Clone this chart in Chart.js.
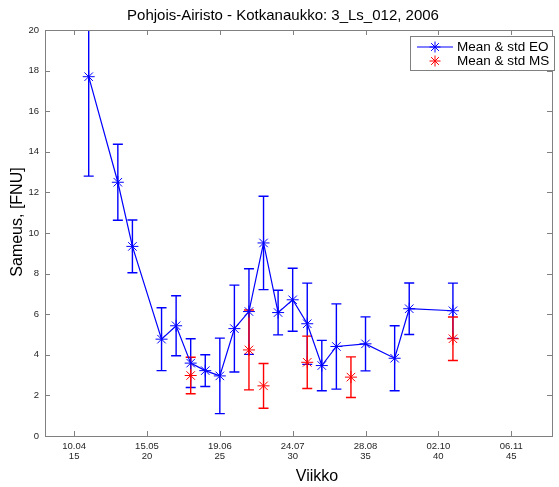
<!DOCTYPE html>
<html><head><meta charset="utf-8">
<script src="https://cdn.jsdelivr.net/npm/chart.js@4/dist/chart.umd.min.js"></script>
<style>html,body{margin:0;padding:0;background:#fff;overflow:hidden}</style>
</head><body>
<canvas id="c" width="559" height="487" style="display:block"></canvas>
<script>
// ---- data ----
const weeksEO = [16, 18, 19, 21, 22, 23, 24, 25, 26, 27, 28, 29, 30, 31, 32, 33, 35, 37, 38, 41];
const meanEO  = [17.7, 12.5, 9.34, 4.77, 5.43, 3.59, 3.22, 2.96, 5.29, 6.13, 9.51, 6.08, 6.71, 5.53, 3.47, 4.41, 4.54, 3.83, 6.27, 6.17];
const stdEO   = [4.9, 1.87, 1.3, 1.55, 1.48, 1.2, 0.78, 1.86, 2.14, 2.11, 2.3, 1.1, 1.55, 2.0, 1.24, 2.1, 1.33, 1.6, 1.27, 1.36];
const weeksMS = [23, 27, 28, 31, 34, 41];
const meanMS  = [2.98, 4.24, 2.47, 3.63, 2.9, 4.79];
const stdMS   = [0.9, 1.97, 1.1, 1.29, 1.0, 1.07];
const tickWeeks = [15, 20, 25, 30, 35, 40, 45];
const tickDates = ['10.04', '15.05', '19.06', '24.07', '28.08', '02.10', '06.11'];
const yTicks = [0, 2, 4, 6, 8, 10, 12, 14, 16, 18, 20];
const titleText = 'Pohjois-Airisto - Kotkanaukko: 3_Ls_012, 2006';
const xLabel = 'Viikko';
const yLabel = 'Sameus, [FNU]';
const seriesNames = ['Mean & std EO', 'Mean & std MS'];

const FONT = '"Liberation Sans", Arial, sans-serif';
const BLUE = '#0000ff', RED = '#ff0000', AXIS = '#808080', TXT = '#262626';

const errorBars = {
  id: 'errorBars',
  beforeDatasetsDraw(chart) {
    const {ctx, chartArea: a, scales: {x, y}} = chart;
    ctx.save();
    ctx.beginPath(); ctx.rect(a.left, a.top, a.right - a.left, a.bottom - a.top); ctx.clip();
    const sets = [[weeksEO, meanEO, stdEO, BLUE], [weeksMS, meanMS, stdMS, RED]];
    sets.forEach(([w, m, s, col]) => {
      w.forEach((wk, i) => {
        const px = x.getPixelForValue(wk);
        const y1 = y.getPixelForValue(m[i] + s[i]);
        const y2 = y.getPixelForValue(m[i] - s[i]);
        ctx.strokeStyle = col; ctx.lineWidth = 1.4;
        ctx.beginPath();
        ctx.moveTo(px, y1); ctx.lineTo(px, y2);
        ctx.moveTo(px - 5, y1); ctx.lineTo(px + 5, y1);
        ctx.moveTo(px - 5, y2); ctx.lineTo(px + 5, y2);
        ctx.stroke();
      });
    });
    ctx.restore();
  }
};

function drawStar(ctx, cx, cy, r, col) {
  ctx.strokeStyle = col; ctx.lineWidth = 1;
  ctx.beginPath();
  ctx.moveTo(cx - r, cy); ctx.lineTo(cx + r, cy);
  ctx.moveTo(cx, cy - r); ctx.lineTo(cx, cy + r);
  const d = r * Math.SQRT1_2;
  ctx.moveTo(cx - d, cy - d); ctx.lineTo(cx + d, cy + d);
  ctx.moveTo(cx - d, cy + d); ctx.lineTo(cx + d, cy - d);
  ctx.stroke();
}

const frame = {
  id: 'frame',
  afterDraw(chart) {
    const {ctx, chartArea: a, scales: {x, y}} = chart;
    ctx.save();
    ctx.strokeStyle = AXIS; ctx.lineWidth = 1;
    ctx.strokeRect(Math.round(a.left) + 0.5, Math.round(a.top) + 0.5, Math.round(a.right - a.left), Math.round(a.bottom - a.top));
    ctx.beginPath();
    tickWeeks.forEach(v => {
      const px = Math.round(x.getPixelForValue(v)) + 0.5;
      ctx.moveTo(px, a.bottom); ctx.lineTo(px, a.bottom - 5);
      ctx.moveTo(px, a.top); ctx.lineTo(px, a.top + 5);
    });
    yTicks.forEach(v => {
      const py = Math.round(y.getPixelForValue(v)) + 0.5;
      ctx.moveTo(a.left, py); ctx.lineTo(a.left + 5, py);
      ctx.moveTo(a.right, py); ctx.lineTo(a.right - 5, py);
    });
    ctx.stroke();
    ctx.fillStyle = '#000';
    ctx.font = '15px ' + FONT;
    ctx.textAlign = 'center'; ctx.textBaseline = 'middle';
    ctx.fillText(titleText, 283, 16);
    ctx.font = '16px ' + FONT;
    ctx.fillText(xLabel, 317, 477);
    ctx.save();
    ctx.translate(18, 222); ctx.rotate(-Math.PI / 2);
    ctx.fillText(yLabel, 0, 0);
    ctx.restore();
    // legend
    const lx = 410.5, ly = 36.5, lw = 144, lh = 34;
    ctx.fillStyle = '#fff'; ctx.fillRect(lx, ly, lw, lh);
    ctx.strokeStyle = AXIS; ctx.strokeRect(lx, ly, lw, lh);
    ctx.font = '13.5px ' + FONT; ctx.textAlign = 'left';
    const rows = [[47, BLUE, true], [61, RED, false]];
    rows.forEach(([yy, col, line], i) => {
      if (line) { ctx.strokeStyle = col; ctx.lineWidth = 1.2; ctx.beginPath(); ctx.moveTo(417, yy); ctx.lineTo(453, yy); ctx.stroke(); }
      drawStar(ctx, 435, yy, 5.5, col);
      ctx.fillStyle = '#000';
      ctx.fillText(seriesNames[i], 457, yy + 0.5);
    });
    ctx.restore();
  }
};

new Chart(document.getElementById('c'), {
  type: 'scatter',
  data: {
    datasets: [
      { label: seriesNames[0], data: weeksEO.map((w, i) => ({x: w, y: meanEO[i]})),
        showLine: true, borderColor: BLUE, borderWidth: 1.2, backgroundColor: BLUE,
        pointStyle: 'star', pointRadius: 6, pointBorderColor: BLUE, pointBorderWidth: 1, pointHoverRadius: 6 },
      { label: seriesNames[1], data: weeksMS.map((w, i) => ({x: w, y: meanMS[i]})),
        showLine: false, borderColor: RED, backgroundColor: RED,
        pointStyle: 'star', pointRadius: 6, pointBorderColor: RED, pointBorderWidth: 1, pointHoverRadius: 6 }
    ]
  },
  options: {
    responsive: false, animation: false, devicePixelRatio: 1,
    layout: { padding: { top: 30, right: 1.5, left: 0, bottom: 0 } },
    plugins: { legend: { display: false }, title: { display: false }, tooltip: { enabled: false } },
    scales: {
      x: {
        type: 'linear', min: 13, max: 47.8,
        afterBuildTicks: s => { s.ticks = tickWeeks.map(v => ({value: v})); },
        afterFit: s => { s.height = 51; },
        grid: { display: false, drawTicks: false },
        border: { display: false },
        ticks: {
          autoSkip: false, maxRotation: 0, padding: 5, color: TXT,
          font: { family: FONT, size: 9.5, lineHeight: 1.1 },
          callback: v => [tickDates[tickWeeks.indexOf(v)], String(v)]
        }
      },
      y: {
        min: 0, max: 20,
        afterBuildTicks: s => { s.ticks = yTicks.map(v => ({value: v})); },
        afterFit: s => { s.width = 45; },
        grid: { display: false, drawTicks: false },
        border: { display: false },
        ticks: { padding: 6, color: TXT, font: { family: FONT, size: 9.5 } }
      }
    }
  },
  plugins: [errorBars, frame]
});
</script>
</body></html>
